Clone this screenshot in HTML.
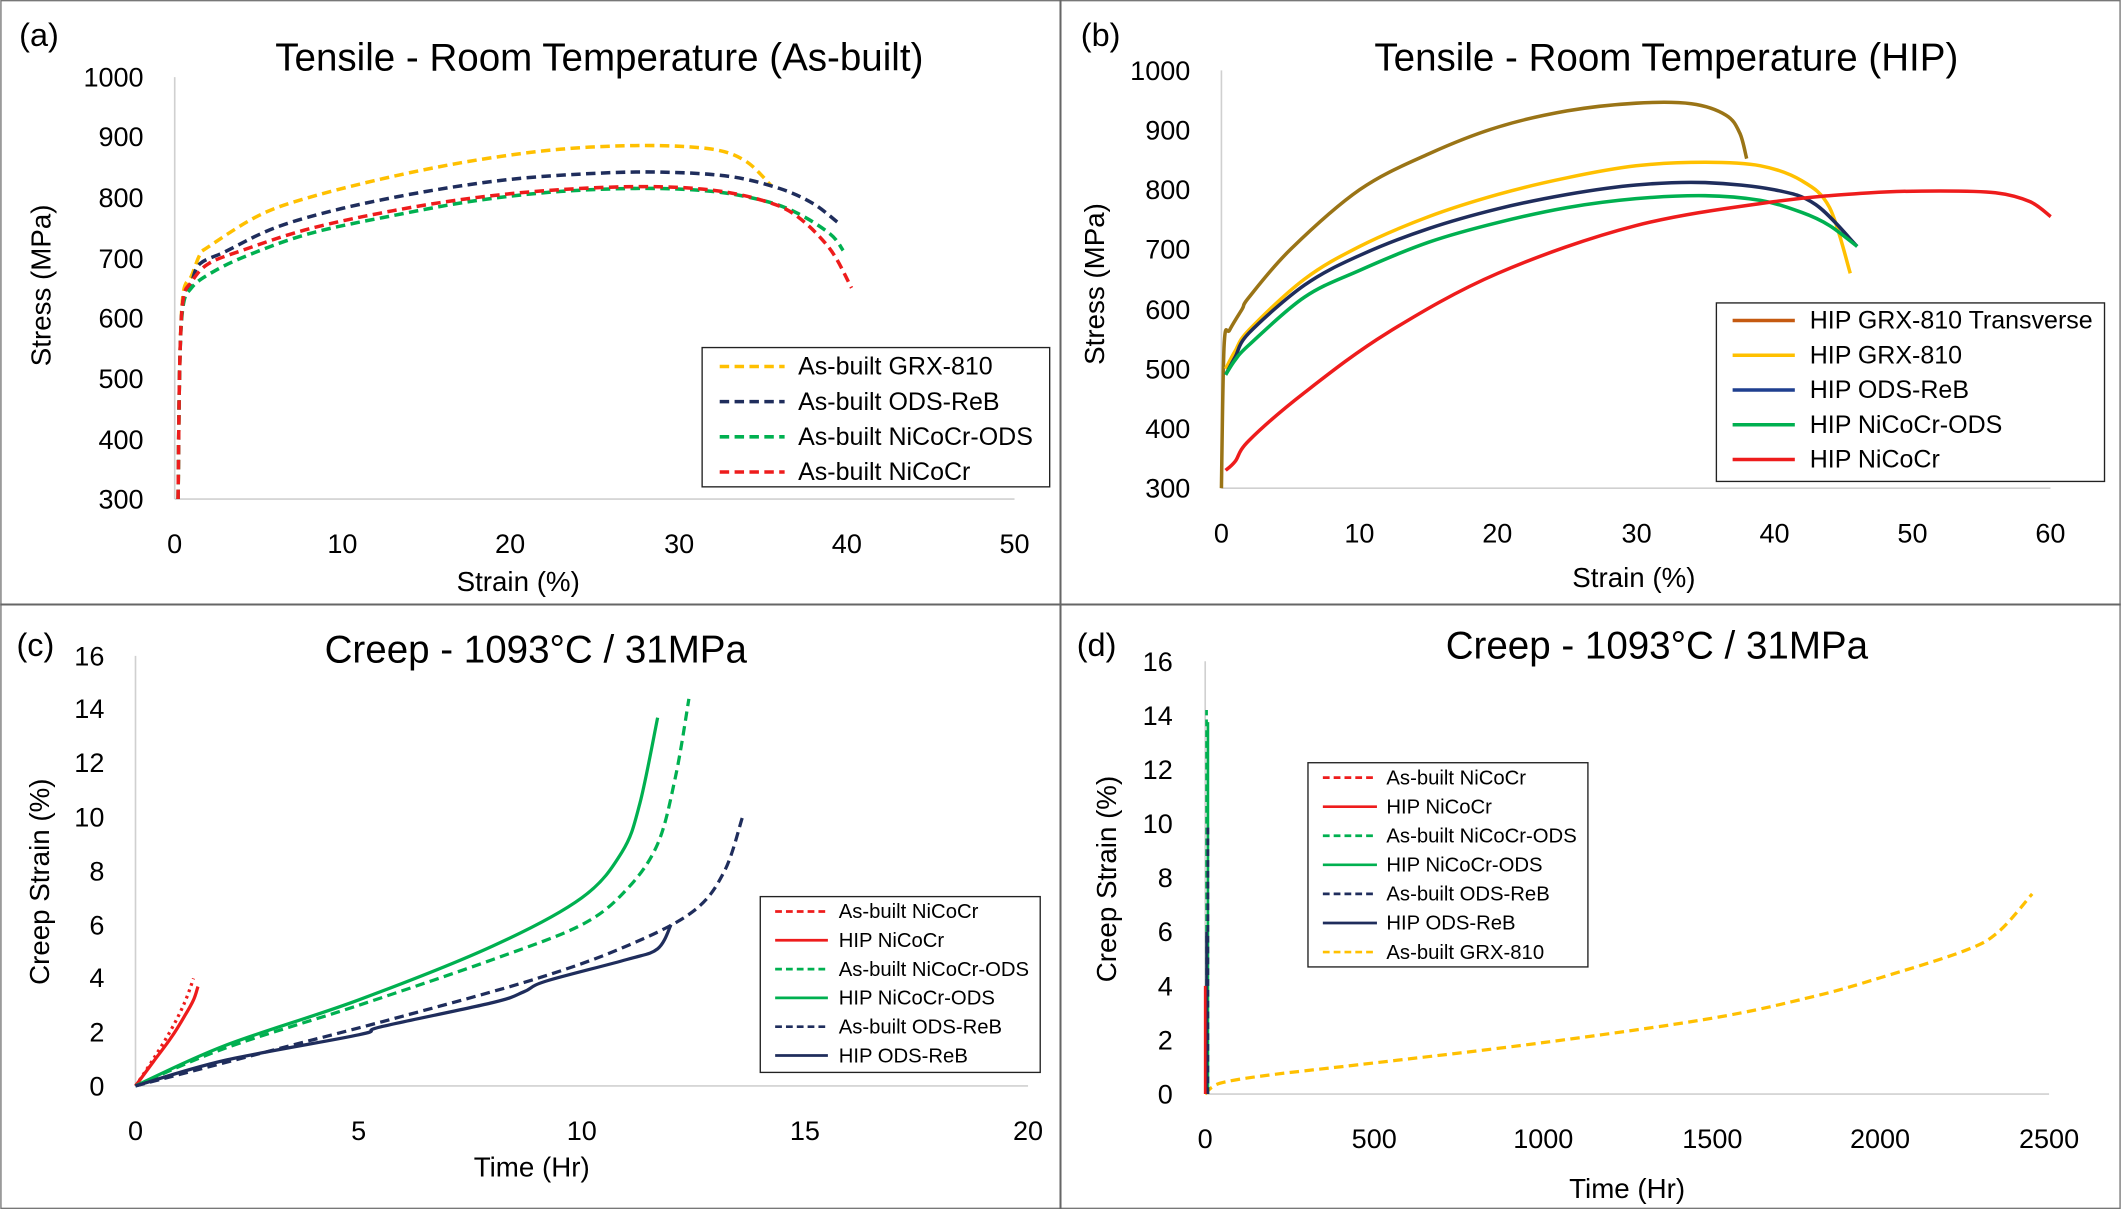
<!DOCTYPE html>
<html><head><meta charset="utf-8"><style>
html,body{margin:0;padding:0;background:#fff;}
svg{display:block;}
text{font-family:"Liberation Sans",sans-serif;fill:#000;}
</style></head><body>
<svg id="s" width="2121" height="1209" viewBox="0 0 1568 894" xmlns="http://www.w3.org/2000/svg">
<rect x="0.5" y="0.5" width="1567" height="893" fill="#fff" stroke="#777" stroke-width="1"/>
<line x1="784" y1="0" x2="784" y2="894" stroke="#666" stroke-width="1.5"/>
<line x1="0" y1="447" x2="1568" y2="447" stroke="#666" stroke-width="1.5"/>
<g id="g"></g>
<!-- Panel a text -->
<text x="14" y="34" font-size="24">(a)</text>
<text x="443" y="52" font-size="28.5" text-anchor="middle">Tensile - Room Temperature (As-built)</text>
<g font-size="20" text-anchor="end">
<text x="106" y="376">300</text><text x="106" y="332">400</text><text x="106" y="287">500</text><text x="106" y="242">600</text><text x="106" y="198">700</text><text x="106" y="153">800</text><text x="106" y="108">900</text><text x="106" y="64">1000</text>
</g>
<g font-size="20" text-anchor="middle">
<text x="129" y="409">0</text><text x="253" y="409">10</text><text x="377" y="409">20</text><text x="502" y="409">30</text><text x="626" y="409">40</text><text x="750" y="409">50</text>
</g>
<text x="383" y="437" font-size="20.5" text-anchor="middle">Strain (%)</text>
<text transform="translate(37,211) rotate(-90)" font-size="20.5" text-anchor="middle">Stress (MPa)</text>
<!-- Panel b text -->
<text x="799" y="34" font-size="24">(b)</text>
<text x="1232" y="52" font-size="28.5" text-anchor="middle">Tensile - Room Temperature (HIP)</text>
<g font-size="20" text-anchor="end">
<text x="880" y="368">300</text><text x="880" y="324">400</text><text x="880" y="280">500</text><text x="880" y="236">600</text><text x="880" y="191">700</text><text x="880" y="147">800</text><text x="880" y="103">900</text><text x="880" y="59">1000</text>
</g>
<g font-size="20" text-anchor="middle">
<text x="903" y="401">0</text><text x="1005" y="401">10</text><text x="1107" y="401">20</text><text x="1210" y="401">30</text><text x="1312" y="401">40</text><text x="1414" y="401">50</text><text x="1516" y="401">60</text>
</g>
<text x="1208" y="434" font-size="20.5" text-anchor="middle">Strain (%)</text>
<text transform="translate(816,210) rotate(-90)" font-size="20.5" text-anchor="middle">Stress (MPa)</text>
<!-- Panel c text -->
<text x="12" y="485" font-size="24">(c)</text>
<text x="396" y="490" font-size="28.5" text-anchor="middle">Creep - 1093°C / 31MPa</text>
<g font-size="20" text-anchor="end">
<text x="77" y="810">0</text><text x="77" y="770">2</text><text x="77" y="730">4</text><text x="77" y="691">6</text><text x="77" y="651">8</text><text x="77" y="611">10</text><text x="77" y="571">12</text><text x="77" y="531">14</text><text x="77" y="492">16</text>
</g>
<g font-size="20" text-anchor="middle">
<text x="100" y="843">0</text><text x="265" y="843">5</text><text x="430" y="843">10</text><text x="595" y="843">15</text><text x="760" y="843">20</text>
</g>
<text x="393" y="870" font-size="20.5" text-anchor="middle">Time (Hr)</text>
<text transform="translate(36,652) rotate(-90)" font-size="20.5" text-anchor="middle">Creep Strain (%)</text>
<!-- Panel d text -->
<text x="796" y="485" font-size="24">(d)</text>
<text x="1225" y="487" font-size="28.5" text-anchor="middle">Creep - 1093°C / 31MPa</text>
<g font-size="20" text-anchor="end">
<text x="867" y="816">0</text><text x="867" y="776">2</text><text x="867" y="736">4</text><text x="867" y="696">6</text><text x="867" y="656">8</text><text x="867" y="616">10</text><text x="867" y="576">12</text><text x="867" y="536">14</text><text x="867" y="496">16</text>
</g>
<g font-size="20" text-anchor="middle">
<text x="891" y="849">0</text><text x="1016" y="849">500</text><text x="1141" y="849">1000</text><text x="1266" y="849">1500</text><text x="1390" y="849">2000</text><text x="1515" y="849">2500</text>
</g>
<text x="1203" y="886" font-size="20.5" text-anchor="middle">Time (Hr)</text>
<text transform="translate(825,650) rotate(-90)" font-size="20.5" text-anchor="middle">Creep Strain (%)</text>
</svg>
<script>
var NS="http://www.w3.org/2000/svg",G=document.getElementById("g");
function el(t,a){var e=document.createElementNS(NS,t);for(var k in a)e.setAttribute(k,a[k]);G.appendChild(e);return e;}
function line(x1,y1,x2,y2,c,w,d){var a={x1:x1,y1:y1,x2:x2,y2:y2,stroke:c,"stroke-width":w||1.2};if(d)a["stroke-dasharray"]=d;el("line",a);}
function curve(pts,fx,fy,c,w,d){
 var p=pts.map(function(q){return [fx(q[0]),fy(q[1])];});
 var s="M"+p[0][0].toFixed(1)+" "+p[0][1].toFixed(1);
 for(var i=0;i<p.length-1;i++){
  var p0=p[Math.max(0,i-1)],p1=p[i],p2=p[i+1],p3=p[Math.min(p.length-1,i+2)];
  var c1=[p1[0]+(p2[0]-p0[0])/6,p1[1]+(p2[1]-p0[1])/6],c2=[p2[0]-(p3[0]-p1[0])/6,p2[1]-(p3[1]-p1[1])/6];
  s+="C"+c1[0].toFixed(1)+" "+c1[1].toFixed(1)+" "+c2[0].toFixed(1)+" "+c2[1].toFixed(1)+" "+p2[0].toFixed(1)+" "+p2[1].toFixed(1);
 }
 var a={d:s,fill:"none",stroke:c,"stroke-width":w,"stroke-linejoin":"round"};if(d)a["stroke-dasharray"]=d;el("path",a);
}
var Y="#FFC000",N="#1F2D5C",GR="#00B050",R="#EE1C1C",BR="#9A7416";
line(129,57,129,369,"#d0d0d0",1.2);line(129,369,750,369,"#d0d0d0",1.2);
line(903,52,903,361,"#d0d0d0",1.2);line(903,361,1516,361,"#d0d0d0",1.2);
line(100,485,100,803,"#d0d0d0",1.2);line(100,803,760,803,"#d0d0d0",1.2);
line(891,489,891,809,"#d0d0d0",1.2);line(891,809,1515,809,"#d0d0d0",1.2);
var ax=function(x){return 129+x*12.42},ay=function(y){return 369-(y-300)*0.446};
var D="7,4";
curve([[0.2,300],[0.3,520],[0.5,640],[1,670],[1.5,705],[2,718],[5,770],[8,800],[13,835],[18,862],[23,880],[28,886],[32,880],[34,860],[35.5,820]],ax,ay,Y,2.6,D);
curve([[0.2,300],[0.3,520],[0.5,630],[1,660],[1.5,690],[3,710],[6,750],[10,782],[15,810],[20,830],[25,840],[29,842],[33,835],[36,815],[38,790],[39.5,758]],ax,ay,N,2.6,D);
curve([[0.2,300],[0.3,520],[0.5,620],[1,650],[2,672],[4,700],[8,740],[13,770],[18,795],[23,810],[28,815],[32,810],[35,795],[37,775],[39,740],[39.8,712]],ax,ay,GR,2.6,D);
curve([[0.2,300],[0.3,520],[0.5,630],[1,660],[2,690],[4,712],[8,748],[13,778],[18,800],[23,813],[28,818],[32,812],[35,795],[37,770],[39,715],[40.3,650]],ax,ay,R,2.6,D);
el("rect",{x:519,y:257,width:257,height:103,fill:"#fff",stroke:"#222","stroke-width":1});
[[Y,"As-built GRX-810"],[N,"As-built ODS-ReB"],[GR,"As-built NiCoCr-ODS"],[R,"As-built NiCoCr"]].forEach(function(e,i){var y=271+i*26;line(532,y,580,y,e[0],2.6,D);var t=el("text",{x:590,y:y+6,"font-size":18.5});t.textContent=e[1];});
var bx=function(x){return 903+x*10.22},by=function(y){return 361-(y-300)*0.4414};
curve([[0,300],[0.2,540],[0.6,565],[1.5,600],[2,620],[5,700],[10,800],[15,860],[20,905],[25,932],[30,945],[34,944],[36.5,925],[37.5,895],[38,852]],bx,by,BR,2.6);
curve([[0.3,500],[1,530],[2,565],[6,650],[10,705],[15,755],[20,792],[25,820],[30,840],[35,846],[39,840],[42,815],[44,770],[45.5,660]],bx,by,Y,2.6);
curve([[0.3,490],[1,520],[2,560],[6,640],[10,690],[15,735],[20,768],[25,792],[30,808],[35,812],[40,800],[43,775],[46,705]],bx,by,N,2.6);
curve([[0.3,490],[1,515],[2,540],[6,620],[10,665],[15,712],[20,745],[25,770],[30,785],[35,790],[39,782],[42,762],[44,740],[46,705]],bx,by,GR,2.6);
curve([[0.3,330],[1,345],[2,380],[6,460],[12,560],[20,660],[30,740],[40,780],[47,795],[52,798],[56,795],[58.5,780],[60,755]],bx,by,R,2.6);
el("rect",{x:1269,y:224,width:287,height:132,fill:"#fff",stroke:"#222","stroke-width":1});
[["#C55A11","HIP GRX-810 Transverse"],[Y,"HIP GRX-810"],["#1F3F8F","HIP ODS-ReB"],[GR,"HIP NiCoCr-ODS"],[R,"HIP NiCoCr"]].forEach(function(e,i){var y=237+i*25.7;line(1281,y,1327,y,e[0],2.6);var t=el("text",{x:1338,y:y+6,"font-size":18.5});t.textContent=e[1];});
var cx=function(x){return 100+x*33},cy=function(y){return 803-y*19.875};
curve([[0,0],[0.4,1],[0.8,2.1],[1.1,3.1],[1.3,4]],cx,cy,R,2.4,"2,3");
curve([[0,0],[0.4,0.9],[0.8,1.8],[1.1,2.6],[1.3,3.2],[1.4,3.7]],cx,cy,R,2.4);
curve([[0,0],[2,1.4],[5,3],[8,4.7],[10,6],[11,7.3],[11.7,9],[12.1,11.5],[12.4,14.4]],cx,cy,GR,2.4,"7,4");
curve([[0,0],[2,1.5],[5,3.2],[8,5.2],[10,7],[10.9,8.7],[11.3,10.5],[11.7,13.7]],cx,cy,GR,2.4);
curve([[0,0],[3,1.3],[6,2.6],[9,4],[11,5.2],[12.5,6.5],[13.2,8],[13.6,10]],cx,cy,N,2.4,"7,4");
curve([[0,0],[2,0.95],[5,1.9],[5.5,2.2],[8,3.1],[8.7,3.5],[9.2,3.9],[11,4.7],[11.7,5.1],[12,6]],cx,cy,N,2.4);
el("rect",{x:562,y:663,width:207,height:130,fill:"#fff",stroke:"#222","stroke-width":1});
var LC=[[R,"As-built NiCoCr","5,3"],[R,"HIP NiCoCr",""],[GR,"As-built NiCoCr-ODS","5,3"],[GR,"HIP NiCoCr-ODS",""],[N,"As-built ODS-ReB","5,3"],[N,"HIP ODS-ReB",""]];
LC.forEach(function(e,i){var y=674+i*21.3;line(573,y,612,y,e[0],2,e[2]);var t=el("text",{x:620,y:y+5,"font-size":15});t.textContent=e[1];});
var dx=function(x){return 891+x*0.2496},dy=function(y){return 809-y*20};
curve([[0,0],[20,0.25],[60,0.45],[200,0.72],[500,1.15],[1000,1.9],[1500,2.8],[1800,3.6],[2000,4.3],[2250,5.3],[2350,6],[2450,7.4]],dx,dy,Y,2.4,"7,4");
line(892,809,892,525,GR,2,"5,3");line(893,809,893,534,GR,2);
line(893,809,893,609,N,2,"5,3");line(892,809,892,689,N,2);
line(891,809,891,729,R,2);
el("rect",{x:967,y:564,width:207,height:151,fill:"#fff",stroke:"#222","stroke-width":1});
LC.concat([[Y,"As-built GRX-810","5,3"]]).forEach(function(e,i){var y=575+i*21.5;line(978,y,1018,y,e[0],2,e[2]);var t=el("text",{x:1025,y:y+5,"font-size":15});t.textContent=e[1];});
</script>
</body></html>
